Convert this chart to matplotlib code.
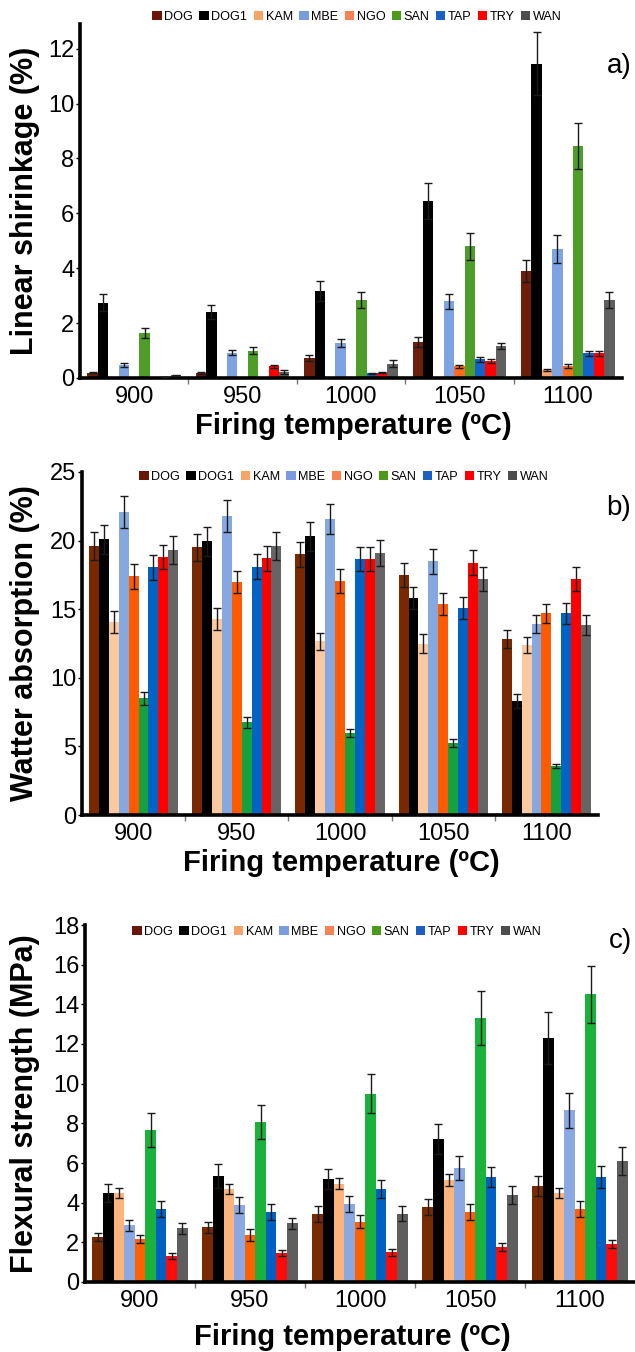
import matplotlib
matplotlib.use("Agg")
import matplotlib.pyplot as plt
from matplotlib.patches import Patch
import numpy as np

plt.rcParams["font.family"] = ["Liberation Sans", "DejaVu Sans"]

temps = ["900", "950", "1000", "1050", "1100"]
clays = ["DOG", "DOG1", "KAM", "MBE", "NGO", "SAN", "TAP", "TRY", "WAN"]

# rows = clay, columns = firing temperature
shrinkage = [
    [0.20, 0.18, 0.72, 1.32, 3.90],
    [2.75, 2.40, 3.17, 6.45, 11.45],
    [0.00, 0.00, 0.00, 0.00, 0.30],
    [0.47, 0.92, 1.27, 2.80, 4.70],
    [0.00, 0.00, 0.00, 0.42, 0.44],
    [1.65, 1.00, 2.85, 4.80, 8.45],
    [0.00, 0.00, 0.17, 0.68, 0.90],
    [0.03, 0.42, 0.20, 0.62, 0.90],
    [0.10, 0.23, 0.52, 1.16, 2.85],
]
shrinkage_err = [
    [0.03, 0.03, 0.10, 0.18, 0.40],
    [0.30, 0.25, 0.35, 0.65, 1.15],
    [0.00, 0.00, 0.00, 0.00, 0.03],
    [0.07, 0.10, 0.15, 0.27, 0.50],
    [0.00, 0.00, 0.00, 0.07, 0.06],
    [0.18, 0.13, 0.30, 0.50, 0.85],
    [0.00, 0.00, 0.02, 0.08, 0.10],
    [0.01, 0.04, 0.03, 0.08, 0.10],
    [0.02, 0.07, 0.12, 0.12, 0.30],
]

absorption = [
    [19.6, 19.5, 19.0, 17.5, 12.8],
    [20.1, 19.95, 20.3, 15.85, 8.3],
    [14.1, 14.3, 12.65, 12.5, 12.4],
    [22.1, 21.8, 21.55, 18.5, 13.9],
    [17.4, 17.0, 17.05, 15.35, 14.7],
    [8.5, 6.75, 6.0, 5.25, 3.6],
    [18.05, 18.1, 18.65, 15.1, 14.7],
    [18.8, 18.7, 18.65, 18.4, 17.2],
    [19.3, 19.6, 19.1, 17.2, 13.85],
]
absorption_err = [
    [1.0, 1.0, 0.9, 0.85, 0.65],
    [1.05, 1.05, 1.05, 0.8, 0.5],
    [0.8, 0.8, 0.6, 0.7, 0.6],
    [1.15, 1.15, 1.1, 0.9, 0.65],
    [0.9, 0.8, 0.85, 0.8, 0.7],
    [0.45, 0.4, 0.3, 0.3, 0.15],
    [0.9, 0.9, 0.9, 0.8, 0.75],
    [0.9, 0.9, 0.9, 0.9, 0.85],
    [1.0, 1.0, 0.95, 0.85, 0.7],
]

flexural = [
    [2.25, 2.75, 3.45, 3.8, 4.85],
    [4.5, 5.35, 5.2, 7.2, 12.3],
    [4.5, 4.7, 4.95, 5.15, 4.5],
    [2.85, 3.9, 3.95, 5.75, 8.65],
    [2.15, 2.35, 3.05, 3.55, 3.7],
    [7.65, 8.05, 9.5, 13.3, 14.5],
    [3.7, 3.55, 4.7, 5.3, 5.3],
    [1.3, 1.45, 1.5, 1.75, 1.9],
    [2.7, 2.95, 3.45, 4.4, 6.1],
]
flexural_err = [
    [0.2, 0.3, 0.4, 0.4, 0.5],
    [0.45, 0.6, 0.5, 0.75, 1.3],
    [0.25, 0.25, 0.28, 0.3, 0.25],
    [0.3, 0.4, 0.4, 0.6, 0.9],
    [0.2, 0.3, 0.35, 0.4, 0.4],
    [0.85, 0.85, 1.0, 1.35, 1.45],
    [0.4, 0.4, 0.45, 0.5, 0.55],
    [0.15, 0.15, 0.17, 0.2, 0.2],
    [0.3, 0.3, 0.38, 0.45, 0.7],
]

legend_colors = ["#6b1408", "#000000", "#f8a468", "#7b9be0", "#f98255",
                 "#4c9a1c", "#1b5fc2", "#ff0000", "#4d4d4d"]
colors_a = ["#6e1d0c", "#000000", "#f5a46c", "#7ea3e3", "#ff6b1e",
            "#4f9d29", "#1263c9", "#ff0000", "#5f5f5f"]
colors_b = ["#7a2800", "#000000", "#fbc9a0", "#86a8e0", "#ff5a00",
            "#15a23d", "#0063c6", "#ff0000", "#666464"]
colors_c = ["#7a2a00", "#000000", "#fbb47c", "#8aa9e3", "#ff6000",
            "#19b33c", "#0061c4", "#ff0a0a", "#5e5e5e"]

W, H = 635, 1352
fig = plt.figure(figsize=(W / 100, H / 100), dpi=100)


def px_axes(left, right, top, bottom):
    return fig.add_axes([left / W, 1 - bottom / H, (right - left) / W, (bottom - top) / H])


def draw_panel(ax, values, errors, colors, ymax, yticks, ylabel, tag,
               legend_xy, tag_xy, xlabel_x, xlabel_y, ylabel_x):
    values = np.asarray(values)
    errors = np.asarray(errors)
    x = np.arange(len(temps))
    bw = 0.096
    for i in range(len(clays)):
        xs = x + (i - 4) * bw
        ax.bar(xs, values[i], bw, color=colors[i], linewidth=0, zorder=2)
        keep = values[i] > 0
        ax.errorbar(xs[keep], values[i][keep], yerr=errors[i][keep], fmt="none",
                    ecolor="#1a1a1a", elinewidth=1.0, capsize=2.6, capthick=1.0, zorder=3)

    ax.set_xlim(-0.5, len(temps) - 0.5)
    ax.set_ylim(0, ymax)
    ax.set_yticks(yticks)
    ax.set_xticks(x)
    ax.set_xticklabels(temps)
    ax.set_xticks(np.arange(len(temps) - 1) + 0.5, minor=True)
    ax.tick_params(axis="x", which="major", length=0, pad=6, labelsize=17)
    ax.tick_params(axis="x", which="minor", length=4, width=1, color="#777777", direction="out")
    ax.tick_params(axis="y", length=3, width=1, pad=1, labelsize=17)

    for side in ("top", "right"):
        ax.spines[side].set_visible(False)
    ax.spines["left"].set_linewidth(2.6)
    ax.spines["bottom"].set_linewidth(2.6)

    ax.set_xlabel("Firing temperature (ºC)", fontsize=21, fontweight="bold")
    ax.xaxis.label.set_va("center")
    ax.xaxis.set_label_coords(xlabel_x, xlabel_y)
    ax.set_ylabel(ylabel, fontsize=22, fontweight="bold")
    ax.yaxis.label.set_va("center")
    ax.yaxis.set_label_coords(ylabel_x, 0.5)

    handles = [Patch(facecolor=c, edgecolor="none") for c in legend_colors]
    fig.legend(handles, clays, loc="center", bbox_to_anchor=legend_xy, ncol=9,
               frameon=False, fontsize=9.1, handlelength=0.75, handleheight=0.75,
               handletextpad=0.2, columnspacing=0.5, borderpad=0)

    fig.text(tag_xy[0], tag_xy[1], tag, fontsize=20, ha="center", va="center")


# panel a
ax_a = px_axes(80, 622, 24, 378)
draw_panel(ax_a, shrinkage, shrinkage_err, colors_a, 12.9, np.arange(0, 13, 2),
           "Linear shirinkage (%)", "a)", (357 / W, 1 - 17 / H), (619 / W, 1 - 66 / H),
           0.504, (378 - 426) / (378 - 24), (25 - 80) / 542)

# panel b
ax_b = px_axes(82, 598, 472, 815)
draw_panel(ax_b, absorption, absorption_err, colors_b, 25, np.arange(0, 26, 5),
           "Watter absorption (%)", "b)", (344 / W, 1 - 477 / H), (619 / W, 1 - 508 / H),
           0.502, (815 - 863) / (815 - 472), (25 - 82) / 516)

# panel c
ax_c = px_axes(85, 635, 925, 1282)
draw_panel(ax_c, flexural, flexural_err, colors_c, 18, np.arange(0, 19, 2),
           "Flexural strength (MPa)", "c)", (337 / W, 1 - 932 / H), (620 / W, 1 - 941 / H),
           0.487, (1282 - 1337) / (1282 - 925), (25 - 85) / 550)

fig.savefig("out.png", dpi=100)
